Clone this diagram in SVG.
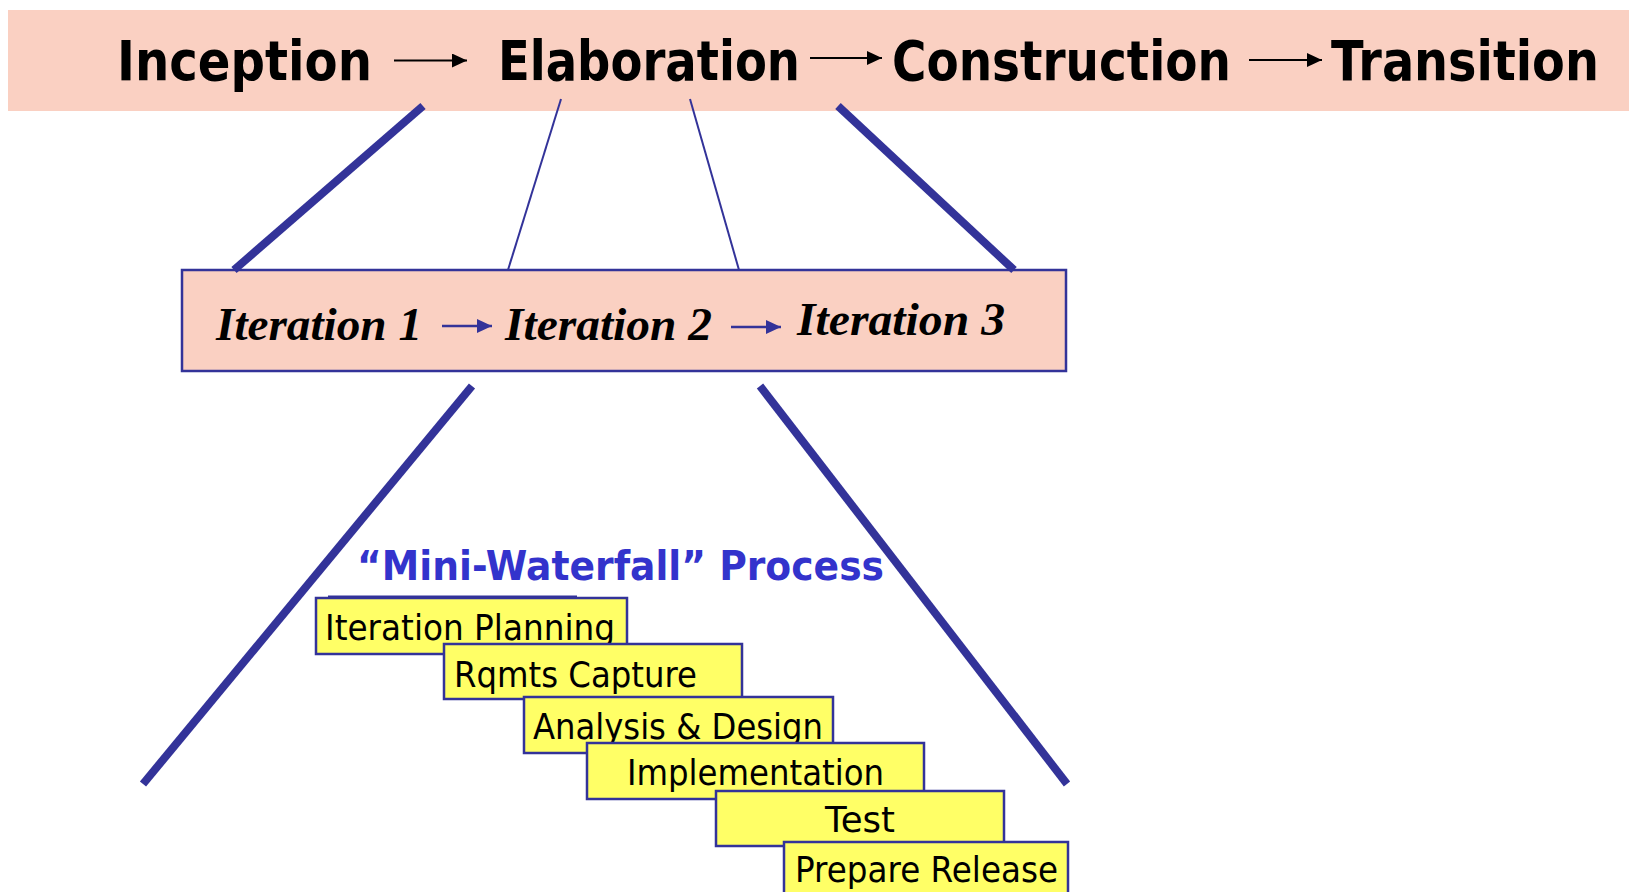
<svg xmlns="http://www.w3.org/2000/svg" width="1629" height="892" viewBox="0 0 1629 892">
  <defs>
    <marker id="headBlack" markerUnits="userSpaceOnUse" markerWidth="16" markerHeight="14" refX="15" refY="7" orient="auto">
      <path d="M0,0 L15,7 L0,14 z" fill="#000"/>
    </marker>
    <marker id="headBlue" markerUnits="userSpaceOnUse" markerWidth="16" markerHeight="14" refX="15" refY="7" orient="auto">
      <path d="M0,0 L15,7 L0,14 z" fill="#333399"/>
    </marker>
  </defs>
  <style>
    .band { fill: #FAD0C2; }
    .phase { font-family: "DejaVu Sans", Verdana, sans-serif; font-weight: bold; font-size: 56px; fill: #000; }
    .iterbox { fill: #FAD0C2; stroke: #333399; stroke-width: 2.5; }
    .iter { font-family: "Liberation Serif", "Times New Roman", serif; font-weight: bold; font-style: italic; font-size: 47px; fill: #000; }
    .title { font-family: "DejaVu Sans", Verdana, sans-serif; font-weight: bold; font-size: 41px; fill: #3333CC; }
    .step { fill: #FFFF66; stroke: #333399; stroke-width: 2.5; }
    .steptext { font-family: "DejaVu Sans", Verdana, sans-serif; font-size: 36px; fill: #000; }
    .thick { stroke: #333399; stroke-width: 8; stroke-linecap: butt; fill: none; }
    .thin { stroke: #333399; stroke-width: 2; fill: none; }
    .arrowBlack { stroke: #000; stroke-width: 2; fill: none; }
    .arrowBlue { stroke: #333399; stroke-width: 2.5; fill: none; }
  </style>

  <rect width="1629" height="892" fill="#fff"/>

  <g id="phase-band">
    <rect class="band" x="8" y="10" width="1621" height="101"/>
  </g>
  <g id="inception"><text class="phase" x="117" y="80" textLength="255" lengthAdjust="spacingAndGlyphs">Inception</text></g>
  <g id="elaboration"><text class="phase" x="498" y="80" textLength="302" lengthAdjust="spacingAndGlyphs">Elaboration</text></g>
  <g id="construction"><text class="phase" x="892" y="80" textLength="339" lengthAdjust="spacingAndGlyphs">Construction</text></g>
  <g id="transition" transform="translate(1331,80) scale(0.853,1)"><text class="phase" x="0" y="0">Transition</text></g>

  <g id="iterations-box">
    <rect class="iterbox" x="182" y="270" width="884" height="101"/>
  </g>
  <g id="iteration1"><text class="iter" x="216" y="340" textLength="206" lengthAdjust="spacingAndGlyphs">Iteration 1</text></g>
  <g id="iteration2"><text class="iter" x="505" y="340" textLength="207" lengthAdjust="spacingAndGlyphs">Iteration 2</text></g>
  <g id="iteration3"><text class="iter" x="797" y="335" textLength="208" lengthAdjust="spacingAndGlyphs">Iteration 3</text></g>

  <g id="mini-waterfall-title">
    <text class="title" x="357" y="580" textLength="527" lengthAdjust="spacingAndGlyphs">“Mini-Waterfall” Process</text>
  </g>

  <g id="step-iteration-planning">
    <line x1="328" y1="596.5" x2="577" y2="596.5" stroke="#333399" stroke-width="2"/>
    <rect class="step" x="316" y="598" width="311" height="56"/>
    <text class="steptext" x="325" y="640" textLength="290" lengthAdjust="spacingAndGlyphs">Iteration Planning</text>
  </g>
  <g id="step-rqmts-capture">
    <rect class="step" x="444" y="644" width="298" height="55"/>
    <text class="steptext" x="454" y="687" textLength="243" lengthAdjust="spacingAndGlyphs">Rqmts Capture</text>
  </g>
  <g id="step-analysis-design">
    <rect class="step" x="524" y="697" width="309" height="56"/>
    <text class="steptext" x="533" y="739" textLength="290" lengthAdjust="spacingAndGlyphs">Analysis &amp; Design</text>
  </g>
  <g id="step-implementation">
    <rect class="step" x="587" y="743" width="337" height="56"/>
    <text class="steptext" x="627" y="785" textLength="257" lengthAdjust="spacingAndGlyphs">Implementation</text>
  </g>
  <g id="step-test">
    <rect class="step" x="716" y="791" width="288" height="55"/>
    <text class="steptext" x="825" y="832" textLength="70" lengthAdjust="spacingAndGlyphs">Test</text>
  </g>
  <g id="step-prepare-release">
    <rect class="step" x="784" y="842" width="284" height="60"/>
    <text class="steptext" x="795" y="882" textLength="263" lengthAdjust="spacingAndGlyphs">Prepare Release</text>
  </g>

  <g id="connectors">
    <line class="thick" x1="423" y1="106" x2="234" y2="270"/>
    <line class="thin" x1="561" y1="99" x2="508" y2="270"/>
    <line class="thin" x1="690" y1="99" x2="739" y2="270"/>
    <line class="thick" x1="838" y1="106" x2="1014" y2="270"/>
    <line class="thick" x1="472" y1="386" x2="143" y2="784"/>
    <line class="thick" x1="760" y1="386" x2="1067" y2="784"/>
    <line class="arrowBlack" x1="394" y1="60.5" x2="467" y2="60.5" marker-end="url(#headBlack)"/>
    <line class="arrowBlack" x1="810" y1="58" x2="882" y2="58" marker-end="url(#headBlack)"/>
    <line class="arrowBlack" x1="1249" y1="60" x2="1322" y2="60" marker-end="url(#headBlack)"/>
    <line class="arrowBlue" x1="442" y1="326" x2="492" y2="326" marker-end="url(#headBlue)"/>
    <line class="arrowBlue" x1="731" y1="327" x2="781" y2="327" marker-end="url(#headBlue)"/>
  </g>
</svg>
